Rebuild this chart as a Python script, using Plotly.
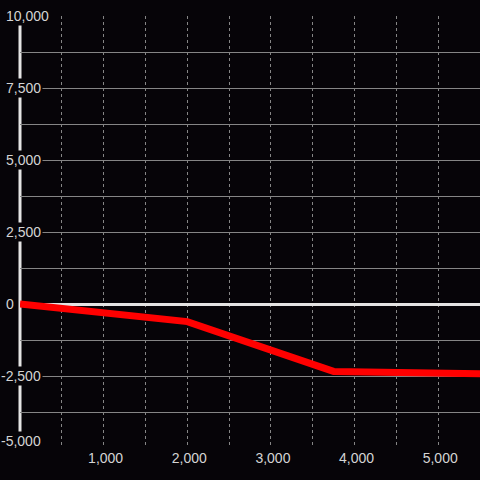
import plotly.graph_objects as go

# series
x_vals = [0, 2000, 3750, 5500]
y_vals = [0, -610, -2340, -2420]

# axis ticks
x_ticks = [1000, 2000, 3000, 4000, 5000]
x_ticktext = ["1,000", "2,000", "3,000", "4,000", "5,000"]
y_ticks = [10000, 7500, 5000, 2500, 0, -2500, -5000]
y_ticktext = ["10,000", "7,500", "5,000", "2,500", "0", "-2,500", "-5,000"]

BG = "#060408"
TXT = "#d4d4d4"
GRID = "#858585"
AXIS = "#e4e4e4"
FONT = "Liberation Sans, Arial, sans-serif"

fig = go.Figure()
fig.add_trace(go.Scatter(
    x=x_vals, y=y_vals, mode="lines",
    line=dict(color="#ff0000", width=7),
    hoverinfo="skip", cliponaxis=False,
))

# vertical axis line at x=0
fig.add_shape(type="line", xref="paper", yref="paper", x0=0, x1=0, y0=0, y1=1,
              line=dict(color=AXIS, width=3), layer="below")

# y tick labels drawn as masked text so they hide the lines behind them
for v, t in zip(y_ticks, y_ticktext):
    bottom = v == min(y_ticks)
    fig.add_annotation(
        x=0, xref="paper", y=v, yref="y", text=t, showarrow=False,
        xanchor="left", yanchor="bottom" if bottom else "middle",
        xshift=-16 - (5 if v < 0 else 0), yshift=-3 if bottom else 0,
        font=dict(family=FONT, size=14, color=TXT),
        bgcolor=BG, borderpad=1,
    )

fig.update_layout(
    width=480, height=480,
    margin=dict(l=20, r=0, t=16, b=32),
    paper_bgcolor=BG, plot_bgcolor=BG,
    showlegend=False,
    font=dict(family=FONT, size=14, color=TXT),
    xaxis=dict(
        range=[0, 5500], tickvals=x_ticks, ticktext=x_ticktext,
        showgrid=True, gridcolor=GRID, gridwidth=1, griddash="dot",
        minor=dict(dtick=500, showgrid=True, gridcolor=GRID, gridwidth=1, griddash="dot"),
        zeroline=False, showline=False, ticks="", ticklabelshift=2,
        tickfont=dict(family=FONT, size=14, color=TXT),
    ),
    yaxis=dict(
        range=[-5000, 10000], tickvals=y_ticks, showticklabels=False,
        showgrid=True, gridcolor=GRID, gridwidth=1,
        minor=dict(dtick=1250, showgrid=True, gridcolor=GRID, gridwidth=1),
        zeroline=True, zerolinecolor=AXIS, zerolinewidth=3,
        showline=False, ticks="",
    ),
)

fig.write_html("out.html", config={"displayModeBar": False},
               post_script="document.body.style.margin='0';document.body.style.background='%s';" % BG)
